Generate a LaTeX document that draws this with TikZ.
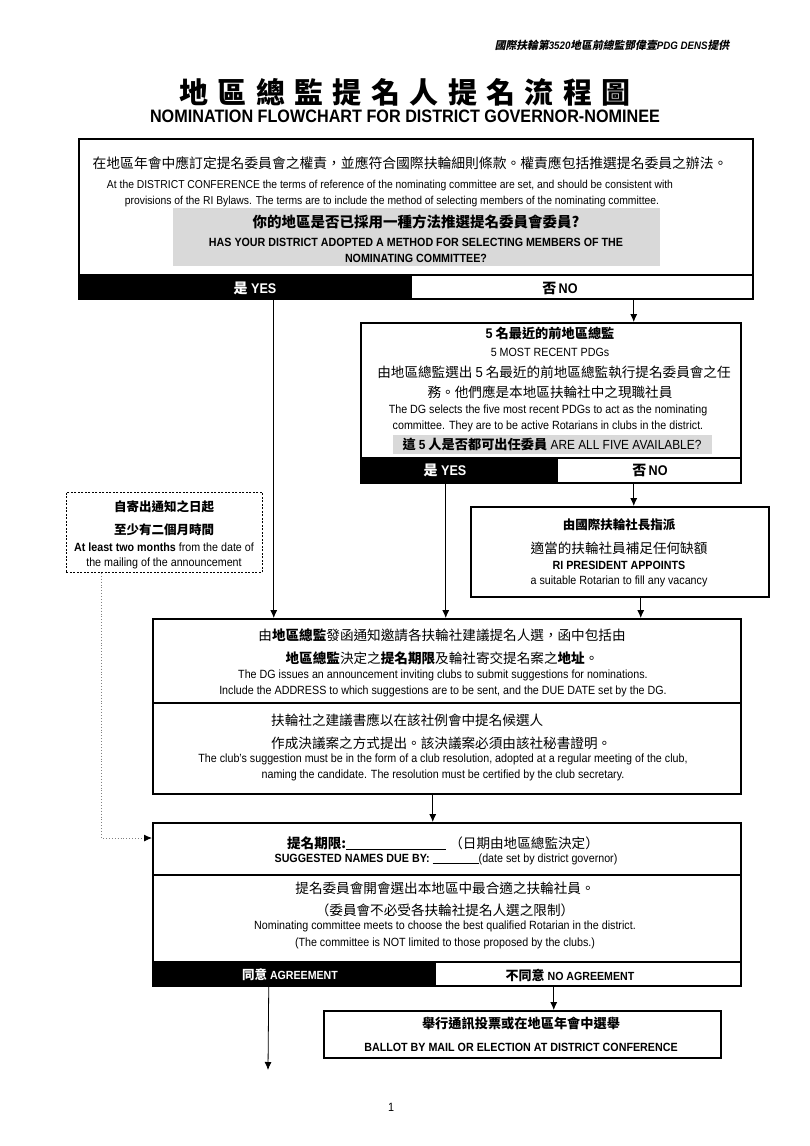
\documentclass[tikz,border=0pt]{standalone}
\usepackage{fontspec}
\setmainfont{Liberation Sans}[FakeStretch=0.9]
\newfontfamily\cjk{Noto Sans CJK TC}
\newfontfamily\cjksl[FakeSlant=0.2]{Noto Sans CJK TC}
\usetikzlibrary{arrows.meta}
\newcommand\zh[1]{{\cjk #1}}
\newcommand\tsp{\hspace{9.4pt}}
\definecolor{graybg}{HTML}{D9D9D9}
\begin{document}
\begin{tikzpicture}[x=1pt,y=-1pt,
  boxst/.style={draw, line width=1.5pt, inner sep=0pt, anchor=north west},
  barblack/.style={fill=black, draw=black, line width=1.5pt, inner sep=0pt, anchor=north west},
  barwhite/.style={draw=black, line width=1.5pt, inner sep=0pt, anchor=north west},
  hl/.style={fill=graybg, inner sep=0pt, anchor=north west},
  arr/.style={-{Latex[length=8pt,width=7pt]}, line width=0.8pt},
  en/.style={inner sep=0pt, font=\fontsize{11.9}{14}\selectfont},
  enb/.style={inner sep=0pt, font=\bfseries\fontsize{11.9}{14}\selectfont},
  zhA/.style={inner sep=0pt, font=\cjk\fontsize{13.8}{16}\selectfont},
  zhB/.style={inner sep=0pt, font=\cjk\fontsize{13.6}{16}\selectfont},
  zhbold/.style={inner sep=0pt, font=\cjk\bfseries\fontsize{13.2}{16}\selectfont},
  bartxt/.style={inner sep=0pt, font=\bfseries\fontsize{14}{16}\selectfont}
]
\useasboundingbox (0,0) rectangle (810,1146);
\fill[white] (0,0) rectangle (810,1146);

% header and title
\node[inner sep=0pt, font=\bfseries\itshape\fontsize{10.8}{12}\selectfont] (hdr) at (612,45)
  {{\cjksl\bfseries 國際扶輪第}3520{\cjksl\bfseries 地區前總監鄧偉壹}PDG DENS{\cjksl\bfseries 提供}};
\node[inner sep=0pt, font=\cjk\bfseries\fontsize{29}{32}\selectfont] (title) at (405,92)
  {地\tsp 區\tsp 總\tsp 監\tsp 提\tsp 名\tsp 人\tsp 提\tsp 名\tsp 流\tsp 程\tsp 圖};
\node[inner sep=0pt, font=\bfseries\fontsize{18}{20}\selectfont] (etitle) at (405,116)
  {NOMINATION FLOWCHART FOR DISTRICT GOVERNOR-NOMINEE};

% ---------- box 1 ----------
\node[hl, minimum width=487, minimum height=58] (q1) at (173,208) {};
\node[barblack, minimum width=332, minimum height=24] (b1yes) at (78,274) {};
\node[barwhite, minimum width=342, minimum height=24] (b1no) at (410,274) {};
\node[boxst, minimum width=674, minimum height=160] (b1) at (78,138) {};
\node[zhA] (t11) at (410,163) {在地區年會中應訂定提名委員會之權責，並應符合國際扶輪細則條款。權責應包括推選提名委員之辦法。};
\node[en, font=\fontsize{11.5}{14}\selectfont] (t12) at (390,186) {At the DISTRICT CONFERENCE the terms of reference of the nominating committee are set, and should be consistent with};
\node[en, font=\fontsize{11.5}{14}\selectfont] (t13) at (392,202) {provisions of the RI Bylaws. The terms are to include the method of selecting members of the nominating committee.};
\node[zhbold, font=\cjk\bfseries\fontsize{14.5}{16}\selectfont] (t14) at (416,222) {你的地區是否已採用一種方法推選提名委員會委員?};
\node[enb] (t15) at (416,242) {HAS YOUR DISTRICT ADOPTED A METHOD FOR SELECTING MEMBERS OF THE};
\node[enb] (t16) at (416,258) {NOMINATING COMMITTEE?};
\node[bartxt, text=white] (y1) at (255,288) {\zh{是} YES};
\node[bartxt] (n1) at (560,288) {\zh{否}\,NO};

% ---------- box 2 ----------
\node[hl, minimum width=319, minimum height=19] (q2) at (393,435) {};
\node[barblack, minimum width=196, minimum height=25] (b2yes) at (360,457) {};
\node[barwhite, minimum width=184, minimum height=25] (b2no) at (556,457) {};
\node[boxst, minimum width=380, minimum height=160] (b2) at (360,322) {};
\node[zhbold] (t21) at (550,333) {{\rmfamily\bfseries\fontsize{14}{16}\selectfont 5} 名最近的前地區總監};
\node[en] (t22) at (550,352) {5 MOST RECENT PDGs};
\node[zhB] (t23) at (554,372) {由地區總監選出 {\rmfamily\fontsize{14.5}{16}\selectfont 5} 名最近的前地區總監執行提名委員會之任};
\node[zhB] (t24) at (550,392) {務。他們應是本地區扶輪社中之現職社員};
\node[en] (t25) at (548,410) {The DG selects the five most recent PDGs to act as the nominating};
\node[en] (t26) at (548,426) {committee. They are to be active Rotarians in clubs in the district.};
\node[inner sep=0pt, font=\fontsize{13.2}{15}\selectfont] (t27) at (552,444) {\zh{\bfseries 這 }\textbf{5}\zh{\bfseries\ 人是否都可出任委員} ARE ALL FIVE AVAILABLE?};
\node[bartxt, text=white] (y2) at (445,470) {\zh{是} YES};
\node[bartxt] (n2) at (650,470) {\zh{否}\,NO};

% ---------- dashed note ----------
\node[draw, line width=0.9pt, dash pattern=on 2pt off 1.5pt, inner sep=0pt, anchor=north west,
  minimum width=196, minimum height=80] (note) at (66,492) {};
\node[zhbold, font=\cjk\bfseries\fontsize{12.5}{15}\selectfont] (t31) at (164,507) {自寄出通知之日起};
\node[zhbold, font=\cjk\bfseries\fontsize{12.5}{15}\selectfont] (t32) at (164,530) {至少有二個月時間};
\node[en] (t33) at (164,547) {\textbf{At least two months} from the date of};
\node[en] (t34) at (164,563) {the mailing of the announcement};

% ---------- RI president ----------
\node[boxst, minimum width=298, minimum height=90] (ri) at (470,506) {};
\node[zhbold, font=\cjk\bfseries\fontsize{12.5}{15}\selectfont] (t41) at (619,525) {由國際扶輪社長指派};
\node[zhB] (t42) at (619,548) {適當的扶輪社員補足任何缺額};
\node[enb] (t43) at (619,565) {RI PRESIDENT APPOINTS};
\node[en] (t44) at (619,581) {a suitable Rotarian to fill any vacancy};

% ---------- announcement ----------
\node[boxst, minimum width=588, minimum height=175] (ann) at (152,618) {};
\draw[line width=1.5pt] (ann.west |- 0,703) -- (ann.east |- 0,703);
\node[zhB] (t51) at (442,635) {由\textbf{地區總監}發函通知邀請各扶輪社建議提名人選，函中包括由};
\node[zhB] (t52) at (442,658) {\textbf{地區總監}決定之\textbf{提名期限}及輪社寄交提名案之\textbf{地址}。};
\node[en] (t53) at (443,675) {The DG issues an announcement inviting clubs to submit suggestions for nominations.};
\node[en] (t54) at (443,691) {Include the ADDRESS to which suggestions are to be sent, and the DUE DATE set by the DG.};
\node[zhB, anchor=west] (t55) at (271,720) {扶輪社之建議書應以在該社例會中提名候選人};
\node[zhB, anchor=west] (t56) at (271,743) {作成決議案之方式提出。該決議案必須由該社秘書證明。};
\node[en] (t57) at (443,759) {The club's suggestion must be in the form of a club resolution, adopted at a regular meeting of the club,};
\node[en] (t58) at (443,775) {naming the candidate. The resolution must be certified by the club secretary.};

% ---------- due date ----------
\node[barblack, minimum width=282, minimum height=24] (b3yes) at (152,961) {};
\node[barwhite, minimum width=306, minimum height=24] (b3no) at (434,961) {};
\node[boxst, minimum width=588, minimum height=163] (due) at (152,822) {};
\draw[line width=1.5pt] (due.west |- 0,875) -- (due.east |- 0,875);
\node[zhB] (t61) at (443,843) {\textbf{提名期限:}\rule[-1.5pt]{100pt}{0.6pt}\ （日期由地區總監決定）};
\node[en] (t62) at (446,859) {\textbf{SUGGESTED NAMES DUE BY:} \rule[-1.5pt]{46pt}{1pt}(date set by district governor)};
\node[zhB] (t63) at (445,888) {提名委員會開會選出本地區中最合適之扶輪社員。};
\node[zhB] (t64) at (445,910) {（委員會不必受各扶輪社提名人選之限制）};
\node[en] (t65) at (445,926) {Nominating committee meets to choose the best qualified Rotarian in the district.};
\node[en] (t66) at (445,943) {(The committee is NOT limited to those proposed by the clubs.)};
\node[bartxt, text=white, font=\bfseries\fontsize{11.8}{13}\selectfont] (y3) at (290,975) {\zh{\fontsize{12.5}{14}\selectfont 同意} AGREEMENT};
\node[bartxt, font=\bfseries\fontsize{11.8}{13}\selectfont] (n3) at (570,975) {\zh{\bfseries\fontsize{13}{14}\selectfont 不同意} NO AGREEMENT};

% ---------- ballot ----------
\node[boxst, minimum width=397, minimum height=47] (ballot) at (323,1010) {};
\node[zhbold] (t71) at (521,1024) {舉行通訊投票或在地區年會中選舉};
\node[enb] (t72) at (521,1047) {BALLOT BY MAIL OR ELECTION AT DISTRICT CONFERENCE};

\coordinate (endA) at (268,1070);
\node[inner sep=0pt, font=\fontsize{12}{14}\selectfont] (pg) at (391,1107) {1};

% ---------- connectors ----------
\draw[arr] ([xshift=29pt]b1yes.south) -- ([xshift=29pt]b1yes.south |- ann.north);
\draw[arr] ([xshift=52pt]b1no.south) -- ([xshift=52pt]b1no.south |- b2.north);
\draw[arr] ([xshift=-13pt]b2yes.south) -- ([xshift=-13pt]b2yes.south |- ann.north);
\draw[arr] ([xshift=-15pt]b2no.south) -- ([xshift=-15pt]b2no.south |- ri.north);
\draw[arr] ([xshift=21pt]ri.south) -- ([xshift=21pt]ri.south |- ann.north);
\draw[arr] ([xshift=-14pt]ann.south) -- ([xshift=-14pt]ann.south |- due.north);
\draw[arr] ([xshift=-25pt]b3yes.south) -- (endA);
\draw[arr] ([xshift=-34pt]b3no.south) -- ([xshift=-34pt]b3no.south |- ballot.north);
\draw[line width=0.9pt, gray, dotted, -{Latex[length=8pt,width=7pt,black]}]
  ([xshift=-63pt]note.south) |- ([yshift=-16pt]due.north west);
\end{tikzpicture}
\end{document}
